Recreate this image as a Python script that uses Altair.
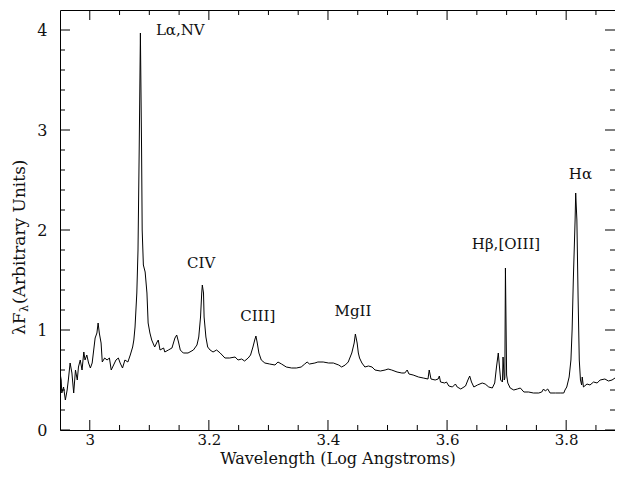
import altair as alt
import pandas as pd

# ---- spectrum (log wavelength, lambda*F_lambda) ----
LOG_WAVELENGTH = [
    2.950, 2.952, 2.953, 2.956, 2.959, 2.962, 2.964, 2.967, 2.970, 2.973,
    2.976, 2.979, 2.981, 2.984, 2.987, 2.990, 2.992, 2.995, 2.998, 3.001,
    3.004, 3.006, 3.009, 3.012, 3.014, 3.016, 3.019, 3.021, 3.025, 3.029,
    3.033, 3.036, 3.040, 3.044, 3.048, 3.051, 3.055, 3.059, 3.064, 3.068,
    3.072, 3.074, 3.076, 3.079, 3.081, 3.082, 3.083, 3.085, 3.087, 3.088,
    3.090, 3.093, 3.096, 3.098, 3.101, 3.104, 3.109, 3.113, 3.115, 3.118,
    3.124, 3.126, 3.132, 3.138, 3.143, 3.146, 3.149, 3.152, 3.157, 3.165,
    3.174, 3.180, 3.183, 3.186, 3.188, 3.189, 3.191, 3.192, 3.195, 3.198,
    3.202, 3.207, 3.213, 3.219, 3.227, 3.235, 3.244, 3.249, 3.255, 3.260,
    3.266, 3.270, 3.274, 3.277, 3.279, 3.281, 3.284, 3.288, 3.294, 3.302,
    3.311, 3.316, 3.322, 3.330, 3.339, 3.347, 3.355, 3.361, 3.365, 3.369,
    3.378, 3.383, 3.392, 3.401, 3.409, 3.418, 3.423, 3.429, 3.434, 3.440,
    3.444, 3.446, 3.449, 3.451, 3.453, 3.457, 3.462, 3.468, 3.474, 3.479,
    3.488, 3.496, 3.501, 3.507, 3.516, 3.524, 3.529, 3.533, 3.536, 3.543,
    3.552, 3.560, 3.568, 3.570, 3.573, 3.580, 3.585, 3.587, 3.589, 3.596,
    3.599, 3.603, 3.609, 3.614, 3.617, 3.623, 3.631, 3.635, 3.638, 3.641,
    3.645, 3.651, 3.659, 3.664, 3.670, 3.676, 3.680, 3.683, 3.686, 3.688,
    3.690, 3.693, 3.694, 3.696, 3.697, 3.698, 3.700, 3.702, 3.706, 3.712,
    3.718, 3.723, 3.729, 3.737, 3.745, 3.754, 3.759, 3.762, 3.765, 3.769,
    3.773, 3.782, 3.790, 3.796, 3.798, 3.801, 3.805, 3.808, 3.810, 3.812,
    3.815, 3.816, 3.818, 3.820, 3.822, 3.824, 3.826, 3.827, 3.829, 3.835,
    3.840, 3.846, 3.852, 3.857, 3.865, 3.871, 3.877, 3.882, 3.888, 3.893,
    3.897, 3.900,
]
FLUX = [
    0.57, 0.50, 0.37, 0.43, 0.30, 0.40, 0.50, 0.67, 0.57, 0.37,
    0.60, 0.50, 0.63, 0.70, 0.60, 0.78, 0.70, 0.75, 0.67, 0.62,
    0.67, 0.77, 0.92, 0.97, 1.07, 0.97, 0.87, 0.68, 0.72, 0.70,
    0.72, 0.60, 0.65, 0.70, 0.72, 0.67, 0.62, 0.70, 0.68, 0.75,
    0.83, 0.90, 1.03, 1.37, 1.80, 2.30, 2.80, 3.97, 2.80, 2.00,
    1.65, 1.58, 1.37, 1.07, 0.97, 0.90, 0.83, 0.88, 0.90, 0.80,
    0.82, 0.78, 0.80, 0.82, 0.92, 0.95, 0.88, 0.80, 0.77, 0.77,
    0.80, 0.85, 0.93, 1.13, 1.37, 1.45, 1.37, 1.13, 0.93, 0.83,
    0.80, 0.78, 0.80, 0.77, 0.72, 0.72, 0.73, 0.70, 0.71, 0.69,
    0.72, 0.75, 0.83, 0.90, 0.94, 0.88, 0.77, 0.70, 0.67, 0.66,
    0.65, 0.68, 0.66, 0.63, 0.62, 0.62, 0.63, 0.66, 0.68, 0.66,
    0.67, 0.68, 0.68, 0.67, 0.67, 0.65, 0.63, 0.65, 0.68, 0.77,
    0.87, 0.96, 0.87, 0.77, 0.72, 0.67, 0.63, 0.64, 0.63, 0.60,
    0.59, 0.60, 0.61, 0.60, 0.58, 0.57, 0.57, 0.60, 0.56, 0.55,
    0.53, 0.52, 0.51, 0.60, 0.51, 0.50, 0.51, 0.54, 0.48, 0.47,
    0.48, 0.44, 0.43, 0.46, 0.43, 0.41, 0.44, 0.50, 0.54, 0.48,
    0.43, 0.45, 0.47, 0.46, 0.43, 0.42, 0.47, 0.63, 0.77, 0.63,
    0.50, 0.48, 0.73, 0.50, 0.52, 1.62, 0.55, 0.47, 0.42, 0.40,
    0.41, 0.42, 0.38, 0.38, 0.37, 0.37, 0.38, 0.41, 0.39, 0.41,
    0.37, 0.37, 0.37, 0.37, 0.40, 0.43, 0.53, 0.70, 1.00, 1.50,
    2.10, 2.37, 2.10, 1.33, 0.70, 0.50, 0.45, 0.53, 0.43, 0.46,
    0.45, 0.48, 0.47, 0.50, 0.51, 0.49, 0.50, 0.52, 0.51, 0.53,
    0.53, 0.54,
]

# ---- axis ticks ----
X_MAJOR = [3.0, 3.2, 3.4, 3.6, 3.8]
X_MINOR = [3.05, 3.1, 3.15, 3.25, 3.3, 3.35, 3.45, 3.5, 3.55, 3.65, 3.7, 3.75, 3.85]
Y_MAJOR = [0, 1, 2, 3, 4]
Y_MINOR = [0.2, 0.4, 0.6, 0.8, 1.2, 1.4, 1.6, 1.8, 2.2, 2.4, 2.6, 2.8,
           3.2, 3.4, 3.6, 3.8]

# ---- emission line labels ----
LINE_LABELS = ["Lα,NV", "CIV", "CIII]", "MgII", "Hβ,[OIII]", "Hα"]
LABEL_X = [3.152, 3.187, 3.282, 3.442, 3.699, 3.824]
LABEL_Y = [4.0, 1.67, 1.14, 1.19, 1.86, 2.56]

assert len(LOG_WAVELENGTH) == len(FLUX)

W, H = 555, 420
FONT = "DejaVu Serif"
INK = "#111111"

xs = alt.Scale(domain=[2.95, 3.882], nice=False, zero=False)
ys = alt.Scale(domain=[0, 4.2], nice=False, zero=False)

x_axis = alt.Axis(
    values=X_MAJOR, format="~g", ticks=False, tickSize=0, domain=False, grid=False,
    labelFont=FONT, labelFontSize=15, labelColor=INK, labelPadding=2,
    title="Wavelength (Log Angstroms)", titleFont=FONT, titleFontSize=16,
    titleFontWeight="normal", titleColor=INK, titlePadding=3)
y_axis = alt.Axis(
    values=Y_MAJOR, ticks=False, tickSize=0, domain=False, grid=False,
    labelFont=FONT, labelFontSize=16, labelColor=INK, labelPadding=13,
    title="")

spec = pd.DataFrame({"lw": LOG_WAVELENGTH, "flux": FLUX})

line = alt.Chart(spec).mark_line(color="black", strokeWidth=1, clip=True).encode(
    x=alt.X("lw:Q", scale=xs, axis=x_axis),
    y=alt.Y("flux:Q", scale=ys, axis=y_axis),
)

xmaj = pd.DataFrame({"lw": X_MAJOR})
xmin = pd.DataFrame({"lw": X_MINOR})
ymaj = pd.DataFrame({"flux": Y_MAJOR})
ymin = pd.DataFrame({"flux": Y_MINOR})

def xticks(df, length):
    bot = alt.Chart(df).mark_rule(color="black", strokeWidth=1).encode(
        x=alt.X("lw:Q", scale=xs, axis=x_axis), y=alt.value(H), y2=alt.value(H - length))
    top = alt.Chart(df).mark_rule(color="black", strokeWidth=1).encode(
        x=alt.X("lw:Q", scale=xs, axis=x_axis), y=alt.value(0), y2=alt.value(length))
    return [bot, top]

def yticks(df, length):
    left = alt.Chart(df).mark_rule(color="black", strokeWidth=1).encode(
        y=alt.Y("flux:Q", scale=ys, axis=y_axis), x=alt.value(0), x2=alt.value(length))
    right = alt.Chart(df).mark_rule(color="black", strokeWidth=1).encode(
        y=alt.Y("flux:Q", scale=ys, axis=y_axis), x=alt.value(W), x2=alt.value(W - length))
    return [left, right]

ann = pd.DataFrame({"label": LINE_LABELS, "lw": LABEL_X, "flux": LABEL_Y})
labels = alt.Chart(ann).mark_text(font=FONT, fontSize=15, color=INK,
                                  align="center", baseline="middle").encode(
    x=alt.X("lw:Q", scale=xs, axis=x_axis),
    y=alt.Y("flux:Q", scale=ys, axis=y_axis),
    text="label:N",
)

# y-axis title: lambda F_lambda (Arbitrary Units), rotated
yt1 = alt.Chart(pd.DataFrame({"t": ["λF"]})).mark_text(
    font=FONT, fontSize=17, color=INK, angle=270, align="left", baseline="middle"
).encode(x=alt.value(-40), y=alt.value(325), text="t:N")
yt2 = alt.Chart(pd.DataFrame({"t": ["λ"]})).mark_text(
    font=FONT, fontSize=11, color=INK, angle=270, align="left", baseline="middle"
).encode(x=alt.value(-35), y=alt.value(302), text="t:N")
yt3 = alt.Chart(pd.DataFrame({"t": ["(Arbitrary Units)"]})).mark_text(
    font=FONT, fontSize=17, color=INK, angle=270, align="left", baseline="middle"
).encode(x=alt.value(-40), y=alt.value(294), text="t:N")

layers = [line] + xticks(xmaj, 10) + xticks(xmin, 5) + yticks(ymaj, 10) + yticks(ymin, 5) + [labels, yt1, yt2, yt3]

chart = alt.layer(*layers).properties(
    width=W, height=H,
    padding={"left": 52, "top": 2, "right": 0, "bottom": 39},
    autosize=alt.AutoSizeParams(type="none"),
    background="white",
).configure_view(stroke="black", strokeWidth=1)

chart.save("out.html", embed_options={"renderer": "svg", "actions": False})
